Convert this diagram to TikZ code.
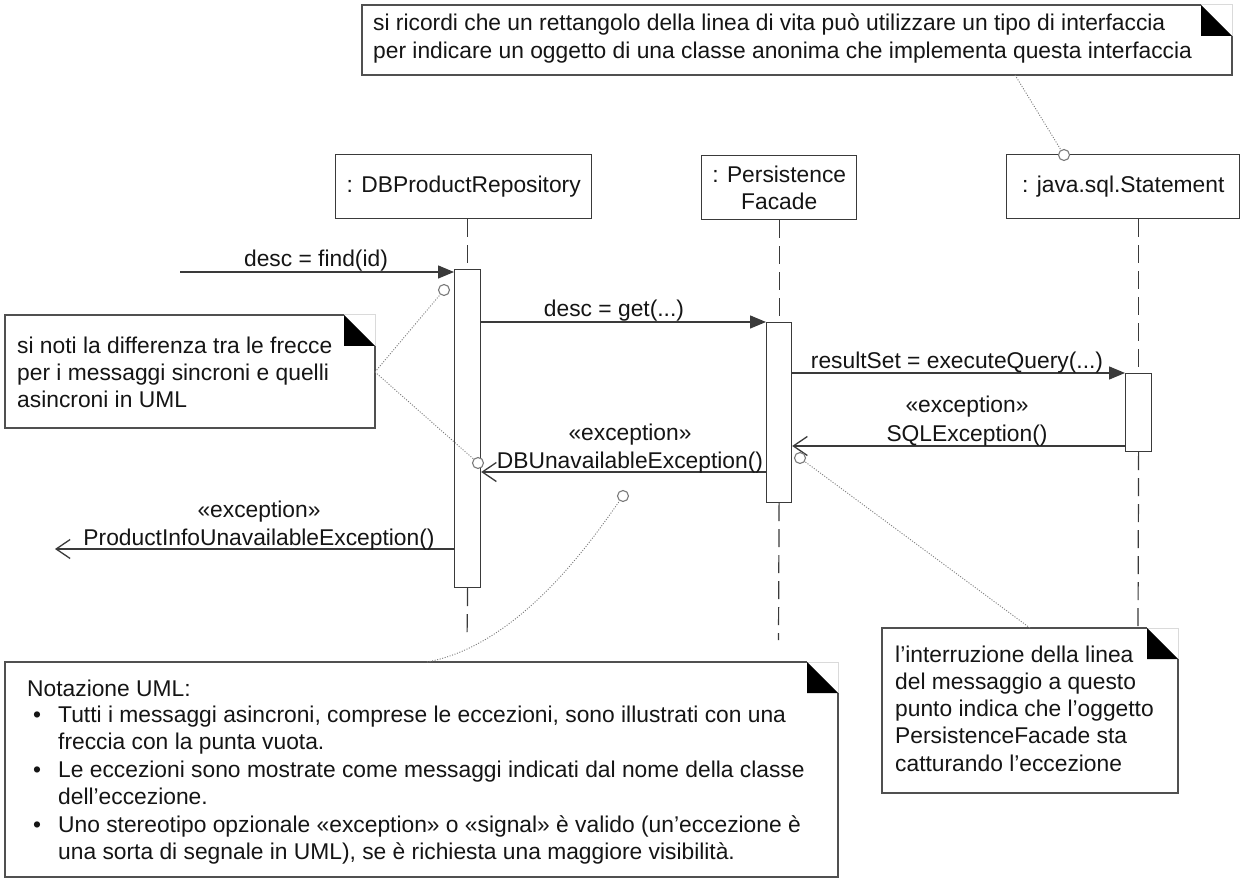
\documentclass[tikz,border=0pt]{standalone}
\usepackage{fontspec}
\setmainfont{Liberation Sans}
\usetikzlibrary{arrows.meta}
\definecolor{lncol}{HTML}{3A3A3A}
\definecolor{txtcol}{HTML}{151515}
\definecolor{notecol}{HTML}{505050}
\definecolor{dotcol}{HTML}{7A7A7A}
\definecolor{faintcol}{HTML}{DADADA}
\newcommand\drawnote[1]{%
  \draw[noteline] ([xshift=-31pt]#1.north east) -- (#1.north west) -- (#1.south west) -- (#1.south east) -- ([yshift=-31pt]#1.north east);
  \draw[notefaint] ([xshift=-31pt]#1.north east) -- (#1.north east) -- ([yshift=-31pt]#1.north east);
  \fill[black] ([xshift=-31pt]#1.north east) -- ([xshift=-31pt,yshift=-31pt]#1.north east) -- ([yshift=-31pt]#1.north east) -- cycle;
}
\begin{document}
\begin{tikzpicture}[x=1pt,y=-1pt,
  every node/.style={font=\fontsize{22.8pt}{27.5pt}\selectfont, text=txtcol},
  headbox/.style={draw=lncol, line width=1.4pt, fill=white, inner sep=0, align=center, anchor=north west},
  actbar/.style={draw=lncol, line width=1.2pt, fill=white, inner sep=0, anchor=north west},
  lifeline/.style={draw=lncol, line width=1.2pt, dash pattern=on 18pt off 8pt},
  syncmsg/.style={draw=lncol, line width=1.4pt, -{Triangle[length=16pt,width=13pt]}},
  asyncmsg/.style={draw=lncol, line width=1.4pt, -{Straight Barb[length=14pt,width=19pt,line width=1.3pt]}},
  msglabel/.style={anchor=base, inner sep=0},
  notebox/.style={anchor=north west, inner sep=0, outer sep=0},
  noteline/.style={draw=notecol, line width=1.3pt},
  notefaint/.style={draw=faintcol, line width=1pt},
  ntext/.style={anchor=base west, inner sep=0},
  dotline/.style={draw=dotcol, line width=0.9pt, dash pattern=on 1pt off 1.6pt},
  anchorcirc/.style={circle, draw=dotcol, line width=1.1pt, fill=white, minimum size=11pt, inner sep=0}
]
\useasboundingbox (0,0) rectangle (1245,882);
\fill[white] (0,0) rectangle (1245,882);

% ---------- notes ----------
\node[notebox, minimum width=870pt, minimum height=70pt] (tn) at (362,5) {};
\drawnote{tn}
\node[ntext] (tn1) at (373,31) {si ricordi che un rettangolo della linea di vita può utilizzare un tipo di interfaccia};
\node[ntext] (tn2) at (373,59) {per indicare un oggetto di una classe anonima che implementa questa interfaccia};

\node[notebox, minimum width=370pt, minimum height=113pt] (ln) at (5,315) {};
\drawnote{ln}
\node[ntext] (ln1) at (17,354) {si noti la differenza tra le frecce};
\node[ntext] (ln2) at (17,381) {per i messaggi sincroni e quelli};
\node[ntext] (ln3) at (17,408) {asincroni in UML};

\node[notebox, minimum width=296pt, minimum height=165pt] (rn) at (882,628) {};
\drawnote{rn}
\node[ntext] (rn1) at (895,662) {l’interruzione della linea};
\node[ntext] (rn2) at (895,689) {del messaggio a questo};
\node[ntext] (rn3) at (895,716) {punto indica che l’oggetto};
\node[ntext] (rn4) at (895,743) {PersistenceFacade sta};
\node[ntext] (rn5) at (895,771) {catturando l’eccezione};

\node[notebox, minimum width=833pt, minimum height=215pt] (bn) at (5,662) {};
\drawnote{bn}
\node[ntext] (bn0) at (27,696) {Notazione UML:};
\node[ntext] (bb1) at (33,722) {•};
\node[ntext] (bn1) at (58,722) {Tutti i messaggi asincroni, comprese le eccezioni, sono illustrati con una};
\node[ntext] (bn2) at (58,749.5) {freccia con la punta vuota.};
\node[ntext] (bb2) at (33,777) {•};
\node[ntext] (bn3) at (58,777) {Le eccezioni sono mostrate come messaggi indicati dal nome della classe};
\node[ntext] (bn4) at (58,804.5) {dell’eccezione.};
\node[ntext] (bb3) at (33,832) {•};
\node[ntext] (bn5) at (58,832) {Uno stereotipo opzionale «exception» o «signal» è valido (un’eccezione è};
\node[ntext] (bn6) at (58,859.5) {una sorta di segnale in UML), se è richiesta una maggiore visibilità.};

% ---------- lifeline heads ----------
\node[headbox, minimum width=256pt, minimum height=64pt] (dbh) at (335,154) {: DBProductRepository};
\node[headbox, minimum width=155pt, minimum height=64pt] (pfh) at (701,155) {: Persistence\\Facade};
\node[headbox, minimum width=233pt, minimum height=64pt] (jsh) at (1006,154) {: java.sql.Statement};

% ---------- activation bars ----------
\node[actbar, minimum width=26pt, minimum height=318pt] (dbb) at (454,269) {};
\node[actbar, minimum width=25pt, minimum height=180pt] (pfb) at (766,322) {};
\node[actbar, minimum width=26pt, minimum height=78pt] (jsb) at (1125,373) {};

% ---------- lifelines ----------
\coordinate (dbend) at (467,640);
\coordinate (pfend) at (778.5,640);
\coordinate (jsend) at (1138,626);
\draw[lifeline] (dbb.north |- dbh.south) -- (dbb.north);
\draw[lifeline] (dbb.south) -- (dbend);
\draw[lifeline] (pfb.north |- pfh.south) -- (pfb.north);
\draw[lifeline] (pfb.south) -- (pfend);
\draw[lifeline] (jsb.north |- jsh.south) -- (jsb.north);
\draw[lifeline] (jsb.south) -- (jsend);

% ---------- messages ----------
\coordinate (fstart) at (180,272);
\draw[syncmsg] (fstart) -- (fstart -| dbb.west);
\node[msglabel] (lfind) at (316,267) {desc = find(id)};

\draw[syncmsg] (dbb.east |- pfb.north) -- (pfb.north west);
\node[msglabel] (lget) at (614,317) {desc = get(...)};

\draw[syncmsg] (pfb.east |- jsb.north) -- (jsb.north west);
\node[msglabel] (lrs) at (957,369) {resultSet = executeQuery(...)};

\coordinate (sqy) at (0,446);
\draw[asyncmsg] (jsb.west |- sqy) -- (pfb.east |- sqy);
\node[msglabel] (lsq1) at (967,413) {«exception»};
\node[msglabel] (lsq2) at (967,442) {SQLException()};

\coordinate (duy) at (0,472);
\draw[asyncmsg] (pfb.west |- duy) -- (dbb.east |- duy);
\node[msglabel] (ldu1) at (630,440) {«exception»};
\node[msglabel] (ldu2) at (630,468) {DBUnavailableException()};

\coordinate (piy) at (55,549);
\draw[asyncmsg] (dbb.west |- piy) -- (piy);
\node[msglabel] (lpi1) at (259,517) {«exception»};
\node[msglabel] (lpi2) at (259,545) {ProductInfoUnavailableException()};

% ---------- note anchors ----------
\node[anchorcirc] (c1) at (444,290) {};
\node[anchorcirc] (c2) at (478,463) {};
\node[anchorcirc] (c3) at (1064,155) {};
\node[anchorcirc] (c4) at (800,458) {};
\node[anchorcirc] (c5) at (623,496) {};

\coordinate (lnp) at (375,372);
\coordinate (tnp) at (1015,75);
\coordinate (rnp) at (1030,628);
\coordinate (bnp) at (427,662);
\draw[dotline] (lnp) -- (c1);
\draw[dotline] (lnp) -- (c2);
\draw[dotline] (tnp) -- (c3);
\draw[dotline] (rnp) -- (c4);
\draw[dotline] (bnp) .. controls (520,645) and (592,540) .. (c5);
\end{tikzpicture}
\end{document}
